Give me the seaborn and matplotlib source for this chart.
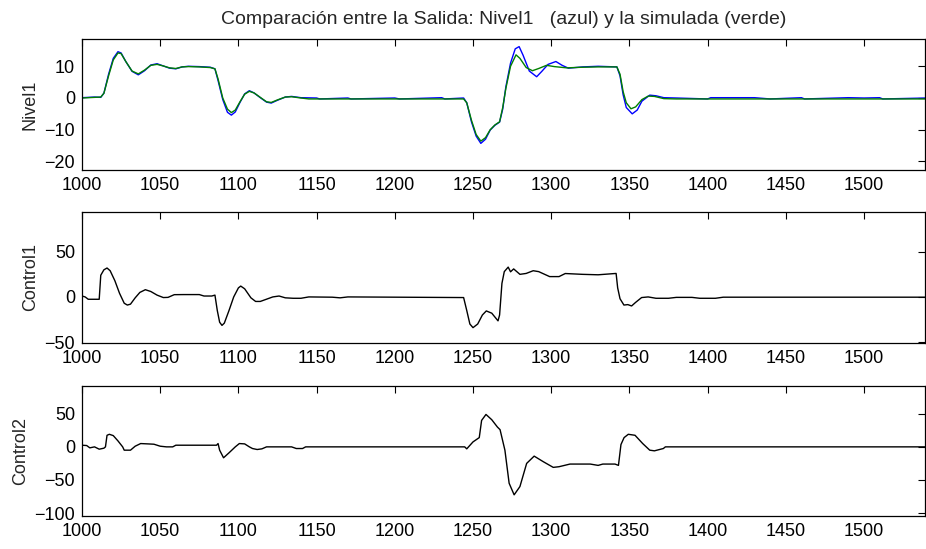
import numpy as np
import pandas as pd
import matplotlib
matplotlib.use('Agg')
import matplotlib.pyplot as plt
import seaborn as sns

# Nivel1 medido (azul)
nivel_x = [1000, 1008, 1012, 1014, 1017, 1020, 1023, 1025, 1028, 1032, 1036, 1040, 1044, 1048, 1052, 1056,
           1060, 1064, 1068, 1075, 1082, 1085, 1087, 1090, 1093, 1095.5, 1098, 1101, 1104, 1107, 1110, 1114,
           1118, 1121, 1125, 1130, 1134, 1140, 1150, 1152, 1170, 1172, 1200, 1203, 1230, 1232, 1244, 1246,
           1249, 1252, 1255, 1258, 1261, 1264, 1267, 1269, 1271, 1274, 1277, 1279.5, 1282, 1286, 1290.7,
           1294, 1298, 1303, 1307, 1311, 1320, 1330, 1342, 1344, 1346, 1348, 1351.8, 1355, 1358, 1363,
           1367, 1372, 1380, 1400, 1402, 1430, 1440, 1460, 1462, 1490, 1500, 1510, 1512, 1540]
nivel_y = [0.1, 0.3, 0.2, 1.5, 7.5, 12.5, 14.6, 14.2, 11.5, 8.4, 7.3, 8.6, 10.4, 10.8, 10.1, 9.4,
           9.2, 9.8, 10.0, 9.9, 9.7, 9.2, 5.5, -0.5, -4.5, -5.4, -4.4, -1.4, 1.3, 2.3, 1.6, 0.1,
           -1.3, -1.6, -0.7, 0.3, 0.5, 0.1, 0.0, -0.3, 0.0, -0.3, 0.0, -0.3, 0.1, -0.3, 0.0, -1.5,
           -7.5, -12, -14.3, -13, -10.1, -8.6, -7.6, -3.5, 3.5, 11, 15.5, 16.2, 13.5, 8.5, 6.7,
           8.4, 10.6, 11.5, 10.3, 9.4, 9.8, 10.0, 9.8, 7, 1, -3, -5.0, -3.8, -1, 0.9,
           0.7, 0.1, 0.0, -0.3, 0.1, 0.1, -0.3, 0.1, -0.3, 0.1, 0.0, 0.1, -0.3, 0.0]

# Nivel1 simulada (verde)
sim_x = [1000, 1012, 1014, 1017, 1020, 1023, 1025, 1028, 1032, 1036, 1040, 1044, 1048, 1052, 1056,
         1060, 1064, 1068, 1075, 1082, 1085, 1087, 1090, 1093, 1095.5, 1098, 1101, 1104, 1107, 1110,
         1114, 1118, 1121, 1125, 1130, 1134, 1140, 1145, 1244, 1246, 1249, 1252, 1255, 1258, 1261,
         1264, 1267, 1269, 1271, 1274, 1277.5, 1280, 1284, 1288, 1292, 1297, 1302, 1310, 1320, 1330,
         1342, 1344, 1346, 1348, 1351, 1354, 1358, 1362, 1366, 1372, 1380, 1540]
sim_y = [0, 0.3, 1.5, 7, 12, 14.2, 14, 11.5, 8.5, 7.6, 8.8, 10.3, 10.6, 10.1, 9.5,
         9.3, 9.8, 9.9, 9.8, 9.6, 9.2, 6, 0, -3.5, -4.6, -3.8, -1.2, 1.2, 2.1, 1.6,
         0.2, -1.2, -1.4, -0.6, 0.3, 0.4, 0, -0.3, -0.3, -1.5, -7, -11.5, -13.6, -12.5, -10,
         -8.5, -7.5, -3, 3, 10, 13.6, 12.5, 9.6, 8.6, 9.3, 10.3, 9.9, 9.5, 9.7, 9.8,
         9.8, 7.5, 2, -1.5, -3.4, -2.8, -0.5, 0.6, 0.5, -0.2, -0.3, -0.3]

# Control1
c1_x = [1000, 1002, 1004, 1011, 1012, 1014, 1016, 1018, 1021, 1024, 1027, 1029, 1031, 1034, 1037,
        1040.5, 1044, 1048, 1052, 1055, 1059, 1065, 1075, 1078, 1083, 1085, 1086.5, 1088, 1089.5, 1091,
        1094, 1097, 1100, 1101.5, 1104, 1108, 1111, 1114, 1118, 1122, 1126, 1130, 1135, 1140, 1145,
        1160, 1165, 1170, 1244, 1246, 1248, 1250, 1253, 1256, 1258.5, 1262, 1266, 1267, 1268.5, 1270,
        1272.5, 1274, 1276, 1280, 1284, 1288.5, 1292, 1299, 1305, 1309, 1320, 1330, 1341.5, 1342.5, 1344,
        1346.5, 1349, 1351.4, 1354, 1357.8, 1362, 1367, 1375, 1380, 1390, 1395, 1405, 1410, 1540]
c1_y = [1, 0, -2.6, -2.6, 24, 30, 32, 29, 18, 4, -7, -9, -8, -1, 5,
        8, 6, 2, -0.7, -0.5, 2.5, 2.6, 2.6, 1, 1, 2, -15, -28, -31.5, -29,
        -15, 0, 10, 12, 9, -1, -5, -5, -2.5, 0, 1, -1, -1.5, -1.5, 0,
        -0.3, -1, 0, -0.7, -15, -30, -34, -30, -20, -15.5, -18, -26.5, -20, 15, 28,
        33, 27.8, 31, 25, 26, 29, 28, 22.5, 22.5, 25.9, 25, 24.5, 26, 10, -2,
        -9, -8.5, -10, -6, -0.7, 0, -1.5, -1.5, -0.5, -0.5, -1.5, -1.5, -0.3, -0.3]

# Control2
c2_x = [1000, 1003, 1005, 1008, 1011, 1014, 1015, 1016, 1017.5, 1020, 1023, 1026, 1027, 1031, 1034,
        1037.5, 1042, 1046, 1050, 1054, 1058, 1060, 1086, 1087, 1088, 1090.5, 1094, 1098, 1100.6, 1104,
        1107, 1109, 1112, 1115, 1118, 1134, 1137, 1141, 1143, 1244.7, 1246, 1250, 1254, 1255.5, 1258.3,
        1262, 1265.6, 1267.3, 1270.4, 1273.1, 1276.3, 1280, 1284.3, 1289.1, 1295, 1301.3, 1305, 1312, 1325,
        1330, 1333, 1340.8, 1343, 1344.6, 1346.6, 1349.3, 1353.6, 1358.5, 1363, 1366, 1371.7, 1373, 1540]
c2_y = [2.5, 2, -1.5, 0, -3.5, -2, 0, 17.5, 19, 17, 9, 0, -5, -5, 1,
        5, 4.5, 4, 1, 0, 0, 2.5, 2.5, 5, -5, -16.5, -9, 0, 5, 4.5,
        0, -2.5, -4, -3, 0, 0, -2.5, -2.5, 0, 0, -3, 7.5, 14, 40, 49,
        41, 30, 26, -5, -55, -72.5, -60, -25, -14, -22.5, -31, -30, -26, -26,
        -28, -26, -26, -28, 3.5, 14, 19, 17.5, 5, -5, -6, -2.5, 0, 0]

x_ticks = [1000, 1050, 1100, 1150, 1200, 1250, 1300, 1350, 1400, 1450, 1500]

sns.set_style('white')
plt.rcParams['font.family'] = ['Liberation Sans', 'DejaVu Sans']

fig = plt.figure(figsize=(9.26, 5.49), dpi=100)
fig.patch.set_facecolor('white')

L, W, H = 82 / 926, 843 / 926, 131 / 549
ax1 = fig.add_axes([L, 1 - 170 / 549, W, H])
ax2 = fig.add_axes([L, 1 - 343 / 549, W, H])
ax3 = fig.add_axes([L, 1 - 516 / 549, W, 130 / 549])

sns.lineplot(x=nivel_x, y=nivel_y, ax=ax1, color='#0000ff', linewidth=1.0, estimator=None)
sns.lineplot(x=sim_x, y=sim_y, ax=ax1, color='#008000', linewidth=1.0, estimator=None)
sns.lineplot(x=c1_x, y=c1_y, ax=ax2, color='black', linewidth=1.0, estimator=None)
sns.lineplot(x=c2_x, y=c2_y, ax=ax3, color='black', linewidth=1.0, estimator=None)

ax1.set_ylim(-22.7, 18.6)
ax1.set_yticks([-20, -10, 0, 10])
ax2.set_ylim(-51, 94)
ax2.set_yticks([-50, 0, 50])
ax3.set_ylim(-104.5, 92)
ax3.set_yticks([-100, -50, 0, 50])

for ax, lab in zip([ax1, ax2, ax3], ['Nivel1', 'Control1', 'Control2']):
    ax.set_xlim(1000, 1539)
    ax.set_xticks(x_ticks)
    ax.set_ylabel(lab, fontsize=13, labelpad=4)
    ax.set_xlabel('')
    ax.tick_params(direction='in', top=True, right=True, length=5, width=0.8,
                   labelsize=13, colors='black', pad=5)
    for s in ax.spines.values():
        s.set_color('black')
        s.set_linewidth(0.9)
    ax.set_facecolor('white')

ax1.set_title('Comparación entre la Salida: Nivel1   (azul) y la simulada (verde)', fontsize=14, pad=11)

fig.savefig('out.png', dpi=100, facecolor='white')
